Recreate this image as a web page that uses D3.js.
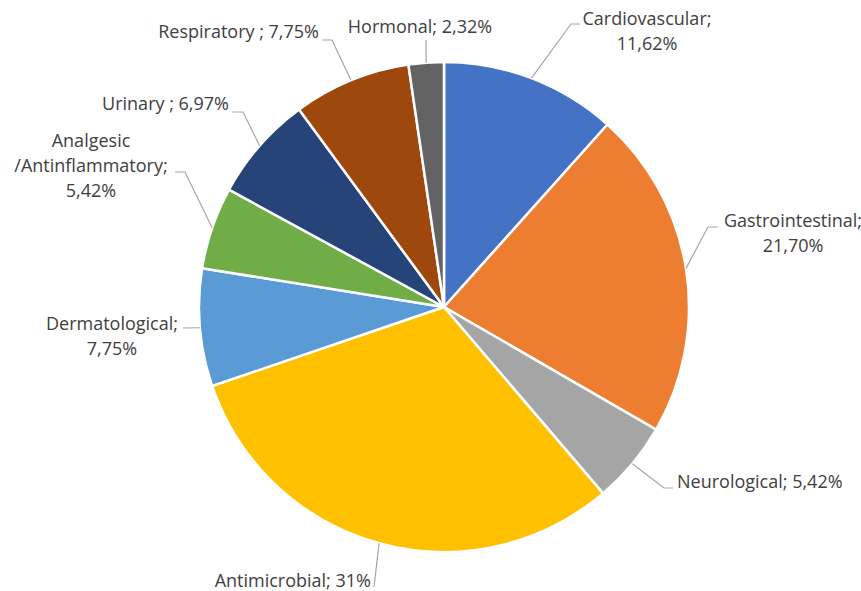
<!DOCTYPE html>
<html>
<head>
<meta charset="utf-8">
<script src="https://cdn.jsdelivr.net/npm/d3@7"></script>
<style>
  body { margin: 0; background: #fff; }
  text { font-family: "Open Sans", sans-serif; font-size: 18px; fill: #404040; }
</style>
</head>
<body>
<div id="chart"></div>
<script>
const categories = ["Cardiovascular", "Gastrointestinal", "Neurological", "Antimicrobial",
  "Dermatological", "Analgesic /Antinflammatory", "Urinary", "Respiratory", "Hormonal"];
const values = [11.62, 21.70, 5.42, 31, 7.75, 5.42, 6.97, 7.75, 2.32];
const labelText = [
  ["Cardiovascular;", "11,62%"],
  ["Gastrointestinal;", "21,70%"],
  ["Neurological; 5,42%"],
  ["Antimicrobial; 31%"],
  ["Dermatological;", "7,75%"],
  ["Analgesic", "/Antinflammatory;", "5,42%"],
  ["Urinary ; 6,97%"],
  ["Respiratory ; 7,75%"],
  ["Hormonal; 2,32%"]
];
const colors = ["#4472c4", "#ed7d31", "#a5a5a5", "#ffc000", "#5b9bd5", "#70ad47", "#264478", "#9e480e", "#636363"];

// label placement: text anchor point, anchor, and leader elbow points
const labelPos = [
  { x: 647, y: 25, anchor: "middle", pts: [[571, 24], [580, 24]] },
  { x: 793, y: 227, anchor: "middle", pts: [[708, 227], [718, 227]] },
  { x: 677, y: 488, anchor: "start", pts: [[664, 488], [673, 488]] },
  { x: 371, y: 587, anchor: "end", pts: [[374, 587]] },
  { x: 112, y: 330, anchor: "middle", pts: [[183, 328]] },
  { x: 91, y: 147, anchor: "middle", pts: [[185, 172], [175, 172]] },
  { x: 229, y: 110, anchor: "end", pts: [[243, 112], [232, 112]] },
  { x: 319, y: 38, anchor: "end", pts: [[332, 40], [322, 40]] },
  { x: 420, y: 33, anchor: "middle", pts: [[426, 40]] }
];

const width = 861, height = 591;
const cx = 444, cy = 307, r = 245;

const svg = d3.select("#chart").append("svg")
    .attr("width", width)
    .attr("height", height);

const g = svg.append("g").attr("transform", `translate(${cx},${cy})`);

const pie = d3.pie().sort(null).value(d => d)(values);
const arc = d3.arc().innerRadius(0).outerRadius(r);

g.selectAll("path.slice")
  .data(pie)
  .join("path")
    .attr("class", "slice")
    .attr("d", arc)
    .attr("fill", (d, i) => colors[i])
    .attr("stroke", "#fff")
    .attr("stroke-width", 2.5)
    .attr("stroke-linejoin", "round");

// leader lines from slice edge midpoint
const line = d3.line();
pie.forEach((d, i) => {
  const a = (d.startAngle + d.endAngle) / 2;
  const start = [cx + r * Math.sin(a), cy - r * Math.cos(a)];
  svg.append("path")
    .attr("d", line([start].concat(labelPos[i].pts)))
    .attr("fill", "none")
    .attr("stroke", "#a6a6a6")
    .attr("stroke-width", 1.2);
});

labelText.forEach((lines, i) => {
  const p = labelPos[i];
  const t = svg.append("text")
    .attr("text-anchor", p.anchor)
    .attr("x", p.x)
    .attr("y", p.y);
  lines.forEach((s, j) => {
    t.append("tspan").attr("x", p.x).attr("dy", j === 0 ? 0 : 25).text(s);
  });
});
</script>
</body>
</html>
